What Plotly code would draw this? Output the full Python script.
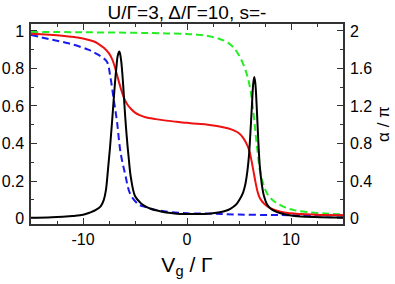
import plotly.graph_objects as go

# ---- data ----
vg_black = [-15, -13, -11, -10, -9.3, -8.8, -8.3, -8.0, -7.8, -7.6, -7.4, -7.2, -7.0, -6.8, -6.65, -6.5,
            -6.35, -6.2, -6.1, -5.95, -5.8, -5.6, -5.4, -5.0, -4.5, -4.0, -3.5, -3.0, -2.5, -2.0, -1.0, 0.0,
            1.0, 2.0, 3.0, 3.5, 4.0, 4.4, 4.8, 5.1, 5.4, 5.6, 5.8, 5.95, 6.1, 6.25, 6.37, 6.47, 6.57, 6.7,
            6.85, 7.0, 7.2, 7.4, 7.7, 8.0, 8.5, 9.0, 10.0, 11.0, 13.0, 15.0]
g_black = [0.004, 0.007, 0.014, 0.02, 0.033, 0.045, 0.065, 0.10, 0.15, 0.26, 0.38, 0.52, 0.67, 0.80, 0.87, 0.89,
           0.85, 0.76, 0.68, 0.55, 0.44, 0.32, 0.22, 0.12, 0.085, 0.065, 0.052, 0.044, 0.038, 0.032, 0.026, 0.024,
           0.024, 0.025, 0.032, 0.038, 0.047, 0.06, 0.08, 0.105, 0.14, 0.18, 0.25, 0.33, 0.46, 0.61, 0.72, 0.755, 0.72, 0.6,
           0.42, 0.28, 0.18, 0.12, 0.075, 0.055, 0.038, 0.028, 0.016, 0.011, 0.007, 0.005]

vg_red = [-15, -12, -10, -9, -8.5, -8, -7.5, -7.2, -7.0, -6.8, -6.6, -6.4, -6.2, -6.0, -5.7, -5.4, -5.0, -4.5,
          -4, -3, -2, -1, 0, 1, 2, 3, 4, 4.5, 5, 5.4, 5.8, 6.0, 6.2, 6.4, 6.6, 6.8, 7.0, 7.4, 8, 9, 10, 11, 12, 13, 15]
g_red = [0.985, 0.975, 0.96, 0.945, 0.93, 0.91, 0.88, 0.85, 0.82, 0.78, 0.74, 0.70, 0.665, 0.635, 0.605, 0.585, 0.565, 0.55,
         0.54, 0.53, 0.522, 0.516, 0.51, 0.505, 0.50, 0.492, 0.48, 0.47, 0.455, 0.43, 0.39, 0.36, 0.31, 0.25, 0.19, 0.14, 0.11, 0.08,
         0.055, 0.036, 0.028, 0.024, 0.021, 0.019, 0.017]

vg_blue = [-15, -13.3, -11.4, -9.5, -8.5, -7.7, -7.4, -7.06, -6.73, -6.4, -5.93, -5.45, -4.65, -4.2, -2.6, 0,
           2.5, 5, 8, 10, 15]
g_blue = [0.979, 0.957, 0.934, 0.90, 0.872, 0.836, 0.765, 0.64, 0.516, 0.356, 0.232, 0.13, 0.075, 0.065, 0.042, 0.028,
          0.026, 0.021, 0.019, 0.018, 0.016]

vg_green = [-15, -10, -5, -2, 0, 1, 2, 3, 3.5, 4, 4.5, 5, 5.5, 5.8, 6.1, 6.4, 6.6, 6.8, 7.0, 7.3, 7.7, 8.2, 8.7,
            9.5, 10.3, 11.5, 13, 15]
g_green = [0.995, 0.993, 0.99, 0.987, 0.984, 0.98, 0.973, 0.96, 0.95, 0.935, 0.91, 0.87, 0.81, 0.76, 0.685, 0.56, 0.45,
           0.35, 0.26, 0.19, 0.134, 0.10, 0.08, 0.058, 0.045, 0.035, 0.028, 0.022]

left_ticks = [0, 0.2, 0.4, 0.6, 0.8, 1]
left_labels = ["0", "0.2", "0.4", "0.6", "0.8", "1"]
right_ticks = [0, 0.4, 0.8, 1.2, 1.6, 2]
right_labels = ["0", "0.4", "0.8", "1.2", "1.6", "2"]
x_ticks = [-10, 0, 10]
x_labels = ["-10", "0", "10"]

FONT = "Liberation Sans, Arial, sans-serif"
AX = "#333333"

fig = go.Figure()
fig.add_trace(go.Scatter(x=vg_green, y=g_green, mode="lines", line=dict(color="#22ee22", width=2, dash="7px,4px"), line_shape="spline"))
fig.add_trace(go.Scatter(x=vg_blue, y=g_blue, mode="lines", line=dict(color="#1a1aee", width=2, dash="7px,4px"), line_shape="spline"))
fig.add_trace(go.Scatter(x=vg_red, y=g_red, mode="lines", line=dict(color="#ee1111", width=2), line_shape="spline"))
fig.add_trace(go.Scatter(x=vg_black, y=g_black, mode="lines", line=dict(color="black", width=2), line_shape="spline"))
# empty trace so the right-hand (alpha/pi) axis is drawn
fig.add_trace(go.Scatter(x=[], y=[], yaxis="y2", mode="lines", hoverinfo="skip"))

ylo, yhi = -0.029, 1.037
fig.update_layout(
    width=395, height=284,
    margin=dict(l=31, r=52, t=24, b=60, autoexpand=False),
    paper_bgcolor="white", plot_bgcolor="white",
    showlegend=False,
    font=dict(family=FONT, color="black", size=15),
    title=dict(text="U/Γ=3, Δ/Γ=10, s=-", xref="paper", x=0.5, xanchor="center",
               yref="container", y=0.955, yanchor="middle",
               font=dict(size=19, family=FONT)),
    xaxis=dict(range=[-15, 15], tickvals=x_ticks, ticktext=x_labels, ticks="inside", ticklen=6,
               tickcolor=AX, linecolor=AX, linewidth=1.5, mirror="ticks", showgrid=False, zeroline=False,
               tickfont=dict(size=16), automargin=False,
               minor=dict(tickvals=[-12.5, -7.5, -5, -2.5, 2.5, 5, 7.5, 12.5], ticks="inside", ticklen=3, tickcolor=AX),
               title=dict(text="V<sub>g</sub> / Γ", font=dict(size=21), standoff=10)),
    yaxis=dict(range=[ylo, yhi], tickvals=left_ticks, ticktext=left_labels, ticks="inside", ticklen=6,
               tickcolor=AX, linecolor=AX, linewidth=1.5, mirror=True, showgrid=False, zeroline=False,
               tickfont=dict(size=16), ticklabelstandoff=2, automargin=False,
               minor=dict(tickvals=[0.1, 0.3, 0.5, 0.7, 0.9], ticks="inside", ticklen=3, tickcolor=AX)),
    yaxis2=dict(range=[2 * ylo, 2 * yhi], overlaying="y", side="right", anchor="x",
                tickvals=right_ticks, ticktext=right_labels, ticks="inside", ticklen=6,
                tickcolor=AX, linecolor=AX, linewidth=1.5, showline=True, showgrid=False, zeroline=False,
                tickfont=dict(size=16), ticklabelstandoff=2, automargin=False,
                minor=dict(tickvals=[0.2, 0.6, 1.0, 1.4, 1.8], ticks="inside", ticklen=3, tickcolor=AX),
                title=dict(text="α / π", font=dict(size=17), standoff=6)),
)
fig.write_html("out.html", config={"displayModeBar": False},
               post_script="document.body.style.margin='0';")
